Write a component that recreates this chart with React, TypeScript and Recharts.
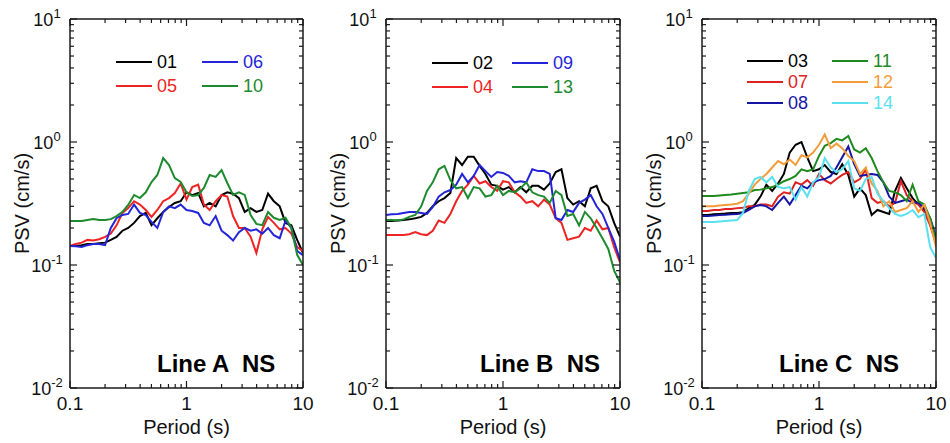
import React from 'react';
import { LineChart, Line, XAxis, YAxis, Legend, Label } from 'recharts';

// shared period grid (s)
const PERIODS = [0.1, 0.112, 0.126, 0.141, 0.158, 0.178, 0.2, 0.224, 0.251, 0.282, 0.316, 0.355, 0.398, 0.447, 0.501, 0.562, 0.631, 0.708, 0.794, 0.891, 1, 1.12, 1.26, 1.41, 1.58, 1.78, 2, 2.24, 2.51, 2.82, 3.16, 3.55, 3.98, 4.47, 5.01, 5.62, 6.31, 7.08, 7.94, 8.91, 10];

const X_TICKS = [0.1, 0.2, 0.3, 0.4, 0.5, 0.6, 0.7, 0.8, 0.9, 1, 2, 3, 4, 5, 6, 7, 8, 9, 10];
const Y_TICKS = [0.01, 0.02, 0.03, 0.04, 0.05, 0.06, 0.07, 0.08, 0.09, 0.1, 0.2, 0.3, 0.4, 0.5, 0.6, 0.7, 0.8, 0.9, 1, 2, 3, 4, 5, 6, 7, 8, 9, 10];

// Line A NS
const A01 = [0.143, 0.143, 0.145, 0.148, 0.148, 0.15, 0.152, 0.16, 0.169, 0.19, 0.2, 0.22, 0.25, 0.265, 0.211, 0.24, 0.27, 0.296, 0.319, 0.33, 0.39, 0.37, 0.385, 0.3, 0.32, 0.3, 0.37, 0.39, 0.38, 0.35, 0.27, 0.29, 0.27, 0.28, 0.38, 0.33, 0.3, 0.22, 0.21, 0.16, 0.125];
const A05 = [0.143, 0.148, 0.152, 0.16, 0.158, 0.162, 0.169, 0.18, 0.21, 0.265, 0.29, 0.33, 0.31, 0.28, 0.246, 0.28, 0.33, 0.35, 0.385, 0.46, 0.34, 0.43, 0.45, 0.31, 0.28, 0.33, 0.37, 0.36, 0.25, 0.2, 0.2, 0.17, 0.125, 0.195, 0.246, 0.22, 0.195, 0.2, 0.18, 0.14, 0.13];
const A06 = [0.143, 0.142, 0.14, 0.145, 0.148, 0.148, 0.145, 0.2, 0.24, 0.255, 0.26, 0.31, 0.265, 0.255, 0.224, 0.2, 0.27, 0.3, 0.29, 0.31, 0.28, 0.275, 0.265, 0.22, 0.21, 0.25, 0.19, 0.175, 0.158, 0.185, 0.2, 0.19, 0.195, 0.18, 0.2, 0.175, 0.165, 0.23, 0.2, 0.13, 0.12];
const A10 = [0.228, 0.228, 0.228, 0.232, 0.236, 0.232, 0.232, 0.236, 0.25, 0.27, 0.308, 0.371, 0.35, 0.39, 0.473, 0.539, 0.74, 0.65, 0.509, 0.473, 0.39, 0.364, 0.371, 0.423, 0.539, 0.52, 0.592, 0.464, 0.371, 0.39, 0.371, 0.255, 0.216, 0.211, 0.27, 0.242, 0.232, 0.242, 0.2, 0.121, 0.1];

// Line B NS
const B02 = [0.228, 0.228, 0.23, 0.232, 0.235, 0.24, 0.246, 0.265, 0.3, 0.33, 0.35, 0.385, 0.74, 0.65, 0.76, 0.76, 0.64, 0.55, 0.45, 0.44, 0.41, 0.43, 0.39, 0.43, 0.39, 0.44, 0.44, 0.41, 0.46, 0.57, 0.6, 0.35, 0.31, 0.33, 0.3, 0.42, 0.44, 0.33, 0.3, 0.22, 0.17];
const B04 = [0.175, 0.175, 0.175, 0.175, 0.178, 0.185, 0.178, 0.175, 0.19, 0.23, 0.22, 0.26, 0.33, 0.4, 0.45, 0.53, 0.46, 0.48, 0.43, 0.4, 0.48, 0.47, 0.39, 0.36, 0.32, 0.33, 0.3, 0.34, 0.31, 0.24, 0.22, 0.16, 0.165, 0.17, 0.2, 0.19, 0.23, 0.195, 0.2, 0.14, 0.105];
const B09 = [0.255, 0.258, 0.26, 0.265, 0.27, 0.27, 0.265, 0.26, 0.296, 0.36, 0.39, 0.407, 0.45, 0.55, 0.47, 0.53, 0.65, 0.58, 0.52, 0.57, 0.56, 0.53, 0.47, 0.48, 0.47, 0.6, 0.58, 0.58, 0.55, 0.24, 0.232, 0.28, 0.27, 0.32, 0.34, 0.37, 0.3, 0.26, 0.2, 0.155, 0.11];
const B13 = [0.232, 0.232, 0.23, 0.235, 0.246, 0.255, 0.3, 0.4, 0.47, 0.6, 0.64, 0.49, 0.42, 0.43, 0.35, 0.43, 0.42, 0.36, 0.37, 0.44, 0.37, 0.4, 0.39, 0.42, 0.47, 0.39, 0.37, 0.36, 0.32, 0.4, 0.37, 0.25, 0.26, 0.21, 0.27, 0.24, 0.2, 0.165, 0.135, 0.09, 0.072];

// Line C NS
const C03 = [0.255, 0.255, 0.258, 0.26, 0.262, 0.265, 0.265, 0.268, 0.29, 0.308, 0.36, 0.45, 0.4, 0.46, 0.55, 0.82, 0.95, 1.0, 0.75, 0.58, 0.6, 0.65, 0.57, 0.55, 0.66, 0.54, 0.36, 0.42, 0.37, 0.255, 0.28, 0.27, 0.26, 0.4, 0.51, 0.42, 0.35, 0.31, 0.28, 0.22, 0.15];
const C07 = [0.275, 0.275, 0.28, 0.28, 0.285, 0.285, 0.29, 0.292, 0.3, 0.3, 0.31, 0.31, 0.3, 0.36, 0.39, 0.38, 0.47, 0.45, 0.49, 0.44, 0.55, 0.49, 0.46, 0.5, 0.54, 0.57, 0.47, 0.5, 0.6, 0.35, 0.32, 0.33, 0.3, 0.32, 0.48, 0.37, 0.33, 0.31, 0.27, 0.21, 0.15];
const C08 = [0.25, 0.25, 0.252, 0.255, 0.256, 0.258, 0.26, 0.265, 0.28, 0.3, 0.308, 0.3, 0.28, 0.32, 0.36, 0.31, 0.37, 0.44, 0.42, 0.47, 0.49, 0.5, 0.53, 0.62, 0.75, 0.92, 0.66, 0.53, 0.54, 0.55, 0.54, 0.47, 0.36, 0.32, 0.33, 0.34, 0.32, 0.32, 0.29, 0.24, 0.17];
const C11 = [0.364, 0.364, 0.364, 0.368, 0.371, 0.375, 0.38, 0.385, 0.39, 0.407, 0.41, 0.42, 0.43, 0.45, 0.48, 0.5, 0.53, 0.6, 0.58, 0.6, 0.77, 0.93, 0.98, 1.06, 1.03, 1.12, 0.87, 0.82, 0.89, 0.74, 0.58, 0.47, 0.4, 0.39, 0.37, 0.33, 0.45, 0.33, 0.31, 0.24, 0.16];
const C12 = [0.3, 0.3, 0.3, 0.305, 0.308, 0.31, 0.315, 0.33, 0.38, 0.45, 0.5, 0.55, 0.62, 0.7, 0.66, 0.72, 0.65, 0.78, 0.75, 0.82, 0.95, 1.15, 0.89, 0.97, 0.89, 0.77, 0.7, 0.55, 0.62, 0.46, 0.4, 0.3, 0.33, 0.27, 0.28, 0.29, 0.33, 0.27, 0.31, 0.22, 0.14];
const C14 = [0.224, 0.224, 0.224, 0.226, 0.228, 0.23, 0.232, 0.265, 0.4, 0.5, 0.52, 0.47, 0.52, 0.43, 0.42, 0.43, 0.34, 0.43, 0.36, 0.47, 0.52, 0.74, 0.62, 0.57, 0.6, 0.7, 0.42, 0.4, 0.5, 0.52, 0.38, 0.33, 0.29, 0.26, 0.25, 0.26, 0.28, 0.245, 0.26, 0.14, 0.114];

const AXIS_COLOR = '#1a1a1a';
const TEXT_COLOR = '#111';
const MAJOR_LEN = 7;
const MINOR_LEN = 4;

interface Series { name: string; values: number[]; color: string; }

// axes take 1px each, so margins are one less than the plot edges
const PANELS = [
  {
    label: 'Line A  NS', left: 0, width: 316, margin: { top: 18, right: 12, bottom: 54, left: 69 }, labelX: 87,
    legend: { left: 116, top: 50, col: 86, row: 24 },
    series: [
      { name: '01', values: A01, color: '#000000' },
      { name: '05', values: A05, color: '#ee2424' },
      { name: '06', values: A06, color: '#2424d8' },
      { name: '10', values: A10, color: '#1e8a2e' },
    ] as Series[],
  },
  {
    label: 'Line B  NS', left: 316, width: 318, margin: { top: 18, right: 13, bottom: 54, left: 69 }, labelX: 94,
    legend: { left: 116, top: 51, col: 80, row: 24 },
    series: [
      { name: '02', values: B02, color: '#000000' },
      { name: '04', values: B04, color: '#ee2424' },
      { name: '09', values: B09, color: '#2424d8' },
      { name: '13', values: B13, color: '#1e8a2e' },
    ] as Series[],
  },
  {
    label: 'Line C  NS', left: 634, width: 316, margin: { top: 18, right: 13, bottom: 54, left: 67 }, labelX: 77,
    legend: { left: 113, top: 50, col: 85, row: 21 },
    series: [
      { name: '03', values: C03, color: '#000000' },
      { name: '07', values: C07, color: '#dd2222' },
      { name: '08', values: C08, color: '#1515a5' },
      { name: '11', values: C11, color: '#1e8a1e' },
      { name: '12', values: C12, color: '#f39c3a' },
      { name: '14', values: C14, color: '#5ae0f0' },
    ] as Series[],
  },
];

const isMajor = (v: number) => Math.abs(Math.log10(v) - Math.round(Math.log10(v))) < 1e-6;

const BottomTick = ({ x, y, payload }: any) => {
  const v = payload.value;
  const major = isMajor(v);
  return (
    <g>
      <line x1={x} y1={y} x2={x} y2={y - (major ? MAJOR_LEN : MINOR_LEN)} stroke={AXIS_COLOR} strokeWidth={1.2} />
      {major && (
        <text x={x} y={y + 22} textAnchor="middle" fontSize={19} fill={TEXT_COLOR}>{String(v)}</text>
      )}
    </g>
  );
};

const TopTick = ({ x, y, payload }: any) => (
  <line x1={x} y1={y} x2={x} y2={y + (isMajor(payload.value) ? MAJOR_LEN : MINOR_LEN)} stroke={AXIS_COLOR} strokeWidth={1.2} />
);

const LeftTick = ({ x, y, payload }: any) => {
  const v = payload.value;
  const major = isMajor(v);
  return (
    <g>
      <line x1={x} y1={y} x2={x + (major ? MAJOR_LEN : MINOR_LEN)} y2={y} stroke={AXIS_COLOR} strokeWidth={1.2} />
      {major && (
        <text x={x - 23} y={y + 7} textAnchor="middle" fontSize={18} fill={TEXT_COLOR}>
          10<tspan dy={-8} fontSize={13}>{String(Math.round(Math.log10(v)))}</tspan>
        </text>
      )}
    </g>
  );
};

const RightTick = ({ x, y, payload }: any) => (
  <line x1={x} y1={y} x2={x - (isMajor(payload.value) ? MAJOR_LEN : MINOR_LEN)} y2={y} stroke={AXIS_COLOR} strokeWidth={1.2} />
);

const makeLegend = (cfg: { left: number; top: number; col: number; row: number }) => (props: any) => {
  const items = [...(props.payload || [])].sort((a: any, b: any) => String(a.value).localeCompare(String(b.value)));
  const rows = Math.ceil(items.length / 2);
  return (
    <div style={{ position: 'relative', width: cfg.col * 2, height: rows * cfg.row }}>
      {items.map((it: any, i: number) => {
        const c = Math.floor(i / rows);
        const r = i % rows;
        return (
          <div key={it.value} style={{ position: 'absolute', left: c * cfg.col, top: r * cfg.row, height: cfg.row, display: 'flex', alignItems: 'center' }}>
            <svg width={36} height={4} style={{ display: 'block' }}>
              <line x1={0} y1={2} x2={36} y2={2} stroke={it.color} strokeWidth={2} />
            </svg>
            <span style={{ marginLeft: 5, fontSize: 18, color: it.color, lineHeight: 1 }}>{it.value}</span>
          </div>
        );
      })}
    </div>
  );
};

const Panel = ({ p }: { p: (typeof PANELS)[number] }) => {
  const data = PERIODS.map((period, i) => {
    const row: Record<string, number> = { period };
    p.series.forEach((s) => { row['s' + s.name] = s.values[i]; });
    return row;
  });
  const axisLine = { stroke: AXIS_COLOR, strokeWidth: 1.5 };
  return (
    <div style={{ position: 'absolute', left: p.left, top: 0 }}>
      <LineChart width={p.width} height={443} data={data} margin={p.margin}>
        <XAxis dataKey="period" type="number" scale="log" domain={[0.1, 10]} allowDataOverflow ticks={X_TICKS} interval={0}
          height={1} tickSize={0} tickMargin={0} tickLine={false} axisLine={axisLine} tick={<BottomTick />}>
          <Label content={(lp: any) => {
            const vb = lp.viewBox;
            return <text x={vb.x + vb.width / 2} y={vb.y + 46} textAnchor="middle" fontSize={20} fill={TEXT_COLOR}>Period (s)</text>;
          }} />
          <Label content={(lp: any) => {
            const vb = lp.viewBox;
            return <text x={vb.x + p.labelX} y={vb.y - 16} fontSize={24} fontWeight="bold" fill="#000" style={{ whiteSpace: 'pre' }}>{p.label}</text>;
          }} />
        </XAxis>
        <XAxis xAxisId="top" orientation="top" dataKey="period" type="number" scale="log" domain={[0.1, 10]} allowDataOverflow ticks={X_TICKS} interval={0}
          height={1} tickSize={0} tickMargin={0} tickLine={false} axisLine={axisLine} tick={<TopTick />} />
        <YAxis type="number" scale="log" domain={[0.01, 10]} allowDataOverflow ticks={Y_TICKS} interval={0}
          width={1} tickSize={0} tickMargin={0} tickLine={false} axisLine={axisLine} tick={<LeftTick />}>
          <Label content={(lp: any) => {
            const vb = lp.viewBox;
            const cx = vb.x + vb.width - 48.5;
            const cy = vb.y + vb.height / 2;
            return <text x={cx} y={cy} transform={`rotate(-90 ${cx} ${cy})`} textAnchor="middle" dominantBaseline="central" fontSize={20} fill={TEXT_COLOR}>PSV (cm/s)</text>;
          }} />
        </YAxis>
        <YAxis yAxisId="right" orientation="right" type="number" scale="log" domain={[0.01, 10]} allowDataOverflow ticks={Y_TICKS} interval={0}
          width={1} tickSize={0} tickMargin={0} tickLine={false} axisLine={axisLine} tick={<RightTick />} />
        <Legend verticalAlign="middle" align="center" content={makeLegend(p.legend)}
          wrapperStyle={{ left: p.legend.left, top: p.legend.top, width: 'auto' }} />
        {p.series.map((s) => (
          <Line key={s.name} dataKey={'s' + s.name} name={s.name} type="linear" stroke={s.color} strokeWidth={2}
            dot={false} activeDot={false} isAnimationActive={false} />
        ))}
      </LineChart>
    </div>
  );
};

export default function App() {
  return (
    <div style={{ position: 'absolute', left: 0, top: 0, width: 950, height: 443, background: '#fff', fontFamily: '"Liberation Sans", Arial, sans-serif' }}>
      {PANELS.map((p) => <Panel key={p.label} p={p} />)}
    </div>
  );
}
